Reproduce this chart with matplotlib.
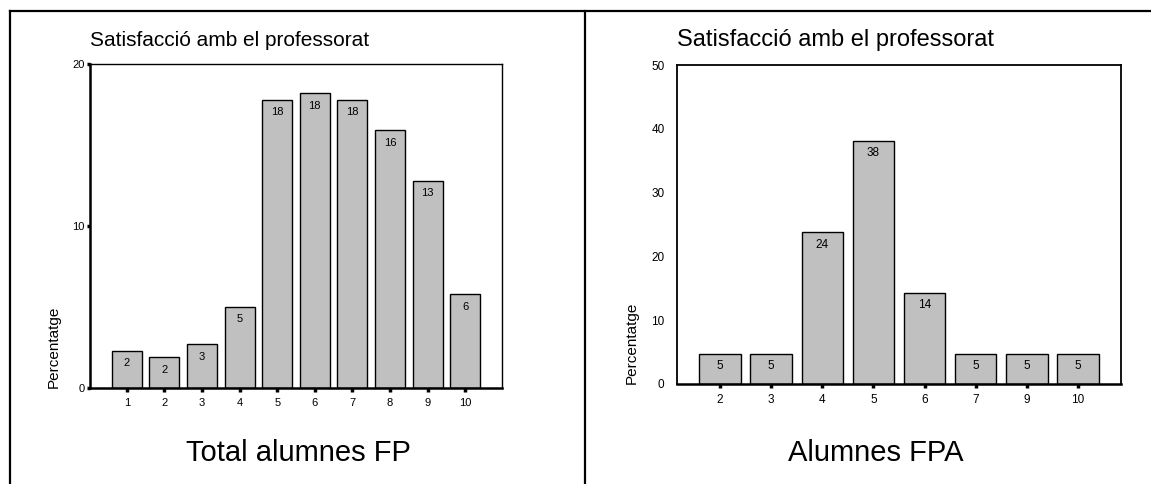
import numpy as np
from matplotlib import pyplot as plt
from matplotlib.lines import Line2D
import matplotlib.transforms as mtransforms

plt.rcParams['font.family'] = ['Liberation Sans', 'DejaVu Sans']

# Total alumnes FP
fp_cats = ['1', '2', '3', '4', '5', '6', '7', '8', '9', '10']
fp_vals = [2.3, 1.9, 2.7, 5.0, 17.8, 18.2, 17.8, 15.9, 12.8, 5.8]
fp_labels = ['2', '2', '3', '5', '18', '18', '18', '16', '13', '6']

# Alumnes FPA
fpa_cats = ['2', '3', '4', '5', '6', '7', '9', '10']
fpa_vals = [4.76, 4.76, 23.8, 38.1, 14.3, 4.76, 4.76, 4.76]
fpa_labels = ['5', '5', '24', '38', '14', '5', '5', '5']

W, H = 1151, 484
fig = plt.figure(figsize=(W / 100, H / 100), dpi=100)


def px_axes(left, top, right, bottom):
    return fig.add_axes([left / W, 1 - bottom / H, (right - left) / W, (bottom - top) / H])


def draw_panel(ax, cats, vals, labels, ylim, yticks, xlim, width, fs):
    x = np.arange(len(cats))
    ax.bar(x, vals, width=width, color='#c0c0c0', edgecolor='black', linewidth=1.0)
    for xi, v, lab in zip(x, vals, labels):
        ax.annotate(lab, (xi, v), xytext=(0, -9), textcoords='offset points',
                    ha='center', va='center', fontsize=fs)
    ax.set_xlim(*xlim)
    ax.set_ylim(*ylim)
    ax.set_xticks(x)
    ax.set_xticklabels(cats, fontsize=fs)
    ax.set_yticks(yticks)
    ax.set_yticklabels([str(t) for t in yticks], fontsize=fs)
    ax.tick_params(axis='x', length=3, width=2.5, pad=4)
    trans = mtransforms.blended_transform_factory(ax.transAxes, ax.transData)
    return trans


# left panel
ax1 = px_axes(90, 64, 502, 388)
tr1 = draw_panel(ax1, fp_cats, fp_vals, fp_labels, (0, 20), [0, 10, 20],
                 (-0.98, 9.98), 0.8, 8)
ax1.tick_params(axis='y', length=2, width=2.5, pad=2)
ax1.spines['left'].set_linewidth(1.8)
ax1.spines['bottom'].set_linewidth(1.8)
ax1.spines['top'].set_linewidth(1.0)
ax1.spines['right'].set_linewidth(1.0)
ax1.text(-0.088, 0, 'Percentatge', transform=tr1, rotation=90,
         ha='center', va='bottom', fontsize=11)
fig.text(90 / W, 1 - 40 / H, 'Satisfacció amb el professorat', fontsize=15,
         ha='left', va='center')
fig.text(298 / W, 1 - 453 / H, 'Total alumnes FP', fontsize=21,
         ha='center', va='center')

# right panel
ax2 = px_axes(677, 65, 1121, 384)
tr2 = draw_panel(ax2, fpa_cats, fpa_vals, fpa_labels, (0, 50), [0, 10, 20, 30, 40, 50],
                 (-0.84, 7.84), 0.81, 8.5)
ax2.tick_params(axis='y', length=0, pad=9)
for s in ax2.spines.values():
    s.set_linewidth(1.3)
ax2.spines['bottom'].set_linewidth(1.8)
ax2.text(-0.101, 0, 'Percentatge', transform=tr2, rotation=90,
         ha='center', va='bottom', fontsize=11)
fig.text(677 / W, 1 - 40 / H, 'Satisfacció amb el professorat', fontsize=17,
         ha='left', va='center')
fig.text(876 / W, 1 - 453 / H, 'Alumnes FPA', fontsize=21,
         ha='center', va='center')

# outer frame lines
lw = 1.6
fig.add_artist(Line2D([10 / W, 1], [1 - 11 / H, 1 - 11 / H], color='black', lw=lw))
fig.add_artist(Line2D([10 / W, 10 / W], [0, 1 - 11 / H], color='black', lw=lw))
fig.add_artist(Line2D([585 / W, 585 / W], [0, 1 - 11 / H], color='black', lw=lw))

fig.savefig('out.png', dpi=100)
